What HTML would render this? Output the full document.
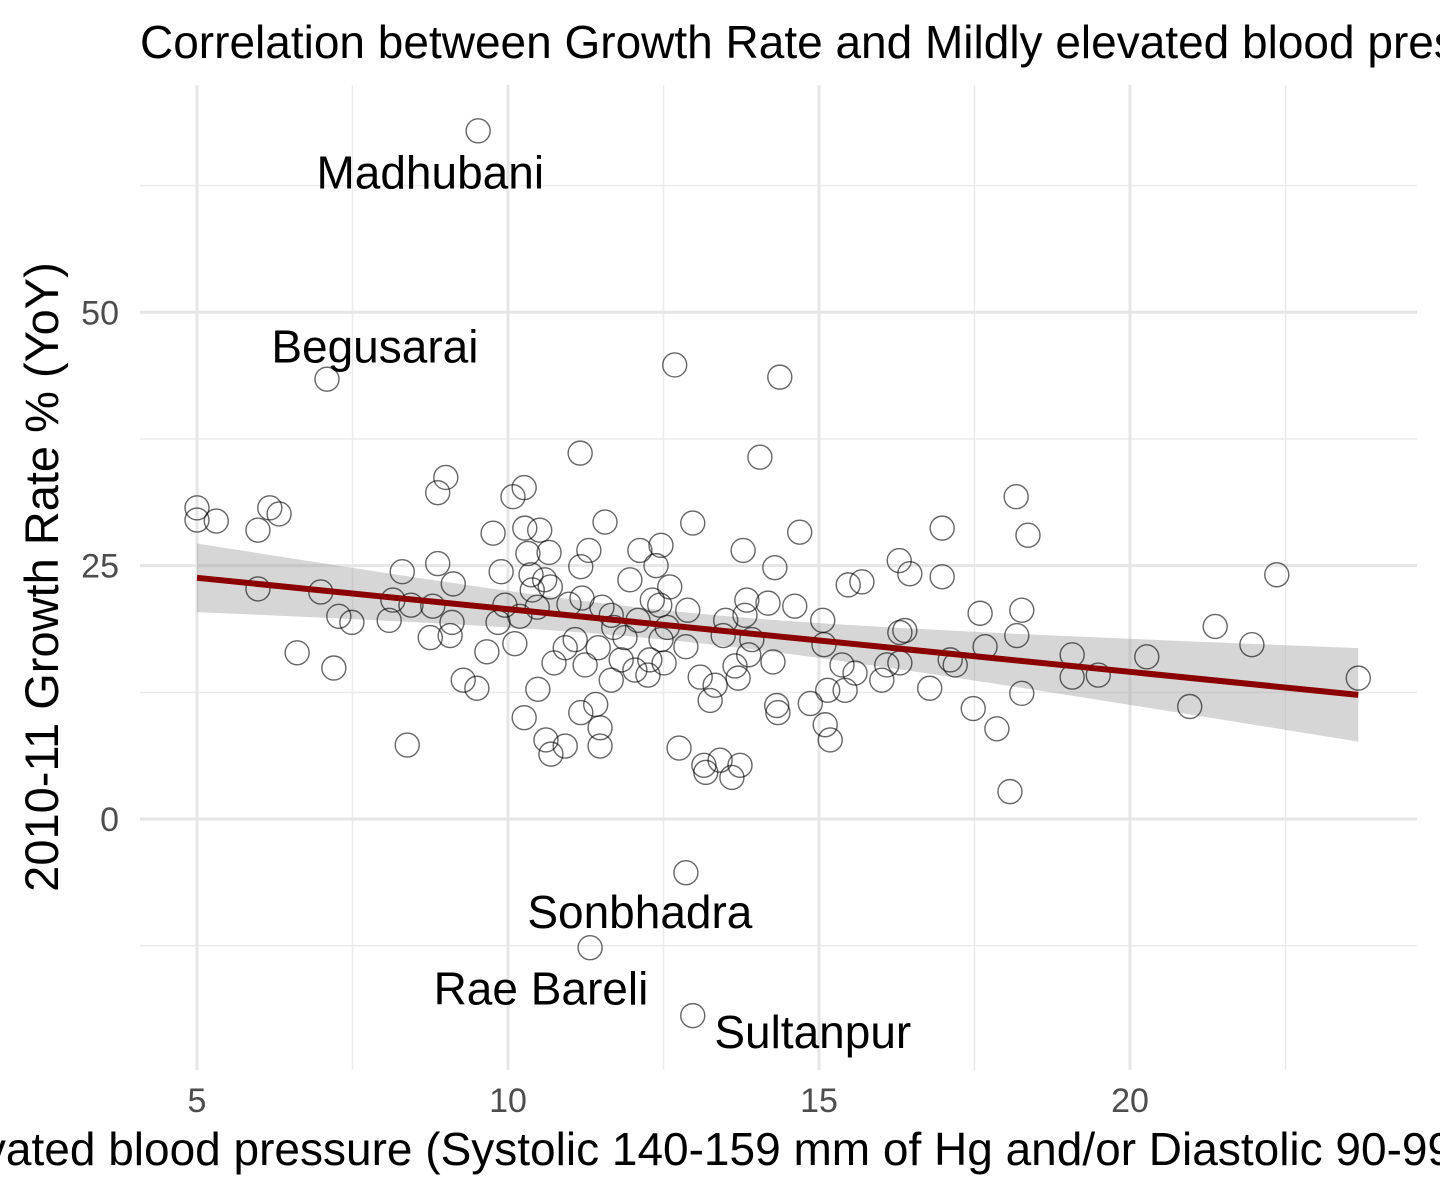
<!DOCTYPE html>
<html><head><meta charset="utf-8"><style>
html,body{margin:0;padding:0;background:#fff;}
svg{display:block;font-family:"Liberation Sans",sans-serif;}
</style></head><body>
<svg id="chart" width="1440" height="1195">
<g id="grid"></g>
<g id="band"></g>
<g id="pts"></g>
<g id="fit"></g>
<g id="labs"></g>
<g id="axes"></g>
<text x="140" y="58" font-size="46" fill="#000">Correlation between Growth Rate and Mildly elevated blood pressure (Systolic 140-159 mm of Hg and/or Diastolic 90-99 mm of Hg) (%)</text>
<text x="778" y="1165" font-size="46" text-anchor="middle" fill="#000">Mildly elevated blood pressure (Systolic 140-159 mm of Hg and/or Diastolic 90-99 mm of Hg) (%)</text>
<text transform="translate(58,577) rotate(-90)" font-size="47" text-anchor="middle" fill="#000">2010-11 Growth Rate % (YoY)</text>
</svg>
<script>
const xVals=[5.00,5.00,5.31,5.98,5.98,6.17,6.32,6.61,6.99,7.09,7.20,7.28,7.49,8.09,8.15,8.30,8.38,8.44,8.75,8.79,8.87,8.87,9.00,9.07,9.10,9.12,9.28,9.52,9.50,9.66,9.76,9.84,9.89,9.95,10.08,10.11,10.19,10.26,10.26,10.27,10.32,10.37,10.39,10.47,10.48,10.51,10.59,10.61,10.66,10.68,10.69,10.74,10.92,10.92,10.98,11.08,11.16,11.17,11.17,11.19,11.24,11.30,11.32,11.41,11.45,11.48,11.48,11.51,11.56,11.66,11.66,11.70,11.82,11.88,11.96,12.04,12.09,12.12,12.25,12.28,12.32,12.38,12.44,12.46,12.46,12.51,12.56,12.60,12.68,12.75,12.86,12.86,12.89,12.97,12.97,13.09,13.15,13.18,13.25,13.33,13.41,13.46,13.50,13.60,13.65,13.70,13.73,13.78,13.81,13.84,13.87,13.92,14.05,14.18,14.26,14.29,14.32,14.34,14.37,14.61,14.69,14.86,15.06,15.08,15.10,15.18,15.14,15.37,15.42,15.47,15.58,15.69,16.01,16.09,16.29,16.30,16.30,16.38,16.46,16.78,16.98,16.98,17.11,17.19,17.48,17.59,17.67,17.86,18.07,18.17,18.18,18.26,18.26,18.36,19.07,19.07,19.49,20.27,20.96,21.37,21.96,22.36,23.67];
const yVals=[30.7,29.5,29.4,28.5,22.7,30.7,30.1,16.4,22.4,43.4,14.9,20.0,19.4,19.6,21.6,24.4,7.3,21.1,17.9,21.0,25.2,32.2,33.7,18.1,19.4,23.2,13.7,67.9,12.9,16.5,28.2,19.4,24.4,21.1,31.8,17.3,20.0,10.0,32.7,28.7,26.2,24.1,22.6,20.9,12.8,28.5,23.6,7.8,26.3,22.9,6.4,15.4,7.2,16.9,21.2,17.7,36.1,10.5,24.9,21.8,15.2,26.5,-12.7,11.3,16.9,9.0,7.2,20.9,29.3,20.1,13.7,18.9,15.7,17.9,23.6,14.7,19.6,26.5,14.2,15.7,21.6,25.0,21.1,27.0,17.7,15.4,18.9,22.9,44.8,7.0,17.0,-5.3,20.6,29.2,-19.4,14.0,5.3,4.6,11.7,13.2,5.8,18.1,19.6,4.1,15.1,13.9,5.3,26.5,20.1,21.6,16.2,17.7,35.7,21.3,15.5,24.8,11.2,10.5,43.6,21.0,28.3,11.4,19.6,17.2,9.3,7.8,12.7,15.2,12.7,23.1,14.4,23.4,13.7,15.2,25.5,15.4,18.4,18.6,24.2,12.9,28.7,23.9,15.7,15.2,10.9,20.3,17.0,8.9,2.7,31.8,18.1,20.6,12.4,28.0,16.2,14.0,14.2,16.0,11.1,19.0,17.2,24.1,13.9];
const labelNames=["Madhubani","Begusarai","Sonbhadra","Rae Bareli","Sultanpur"];
const labelX=[8.75,7.86,12.12,10.53,14.90];
const labelY=[63.8,46.6,-9.2,-16.7,-21.0];
const xTicks=[5,10,15,20];
const yTicks=[0,25,50];
const yMinor=[-12.5,12.5,37.5,62.5];
const xMinor=[7.5,12.5,17.5,22.5];

const NS="http://www.w3.org/2000/svg";
const L=140,R=1417,T=85,B=1070;
const sx=v=>197+(v-5)*62.2;
const sy=v=>819-v*10.135;
function mk(p,tag,attrs){const e=document.createElementNS(NS,tag);for(const k in attrs)e.setAttribute(k,attrs[k]);p.appendChild(e);return e;}
const grid=document.getElementById('grid');
yMinor.forEach(v=>{const e=mk(grid,'line',{x1:L,x2:R,y1:sy(v),y2:sy(v),stroke:'#ebebeb','stroke-width':1.5});

});
xMinor.forEach(v=>{const e=mk(grid,'line',{x1:sx(v),x2:sx(v),y1:T,y2:B,stroke:'#ebebeb','stroke-width':1.5});

});
yTicks.forEach(v=>{const e=mk(grid,'line',{x1:L,x2:R,y1:sy(v),y2:sy(v),stroke:'#e6e6e6','stroke-width':3});

});
xTicks.forEach(v=>{const e=mk(grid,'line',{x1:sx(v),x2:sx(v),y1:T,y2:B,stroke:'#e6e6e6','stroke-width':3});

});
const axes=document.getElementById('axes');
xTicks.forEach(v=>{const t=mk(axes,'text',{x:sx(v),y:1112,'font-size':34,'text-anchor':'middle',fill:'#4d4d4d'});t.textContent=v;

});
yTicks.forEach(v=>{const t=mk(axes,'text',{x:119,y:sy(v)+12,'font-size':34,'text-anchor':'end',fill:'#4d4d4d'});t.textContent=v;

});
const n=xVals.length;let mx=0,my=0;for(let i=0;i<n;i++){mx+=xVals[i];my+=yVals[i];}mx/=n;my/=n;
let sxx=0,sxy=0;for(let i=0;i<n;i++){sxx+=(xVals[i]-mx)**2;sxy+=(xVals[i]-mx)*(yVals[i]-my);}
const b=sxy/sxx,a=my-b*mx;let sse=0;for(let i=0;i<n;i++)sse+=(yVals[i]-a-b*xVals[i])**2;
const s=Math.sqrt(sse/(n-2));
const x0=Math.min(...xVals),x1=Math.max(...xVals);
let up=[],lo=[];
for(let k=0;k<=80;k++){const x=x0+(x1-x0)*k/80;const f=a+b*x;const se=1.97*s*Math.sqrt(1/n+(x-mx)**2/sxx);
up.push(sx(x)+','+sy(f+se));lo.unshift(sx(x)+','+sy(f-se));}
const band=mk(document.getElementById('band'),'polygon',{points:up.concat(lo).join(' '),fill:'#999',opacity:0.4});


const pts=document.getElementById('pts');
for(let i=0;i<n;i++){const c=mk(pts,'circle',{cx:sx(xVals[i]),cy:sy(yVals[i]),r:12,fill:'none',stroke:'#000','stroke-opacity':0.6,'stroke-width':1.4});

}
const ln=mk(document.getElementById('fit'),'line',{x1:sx(x0),y1:sy(a+b*x0),x2:sx(x1),y2:sy(a+b*x1),stroke:'#8b0000','stroke-width':6});


const labs=document.getElementById('labs');
labelNames.forEach((nm,i)=>{const t=mk(labs,'text',{x:sx(labelX[i]),y:sy(labelY[i])+16,'font-size':46,'text-anchor':'middle',fill:'#000'});t.textContent=nm;

});
</script>
</body></html>
